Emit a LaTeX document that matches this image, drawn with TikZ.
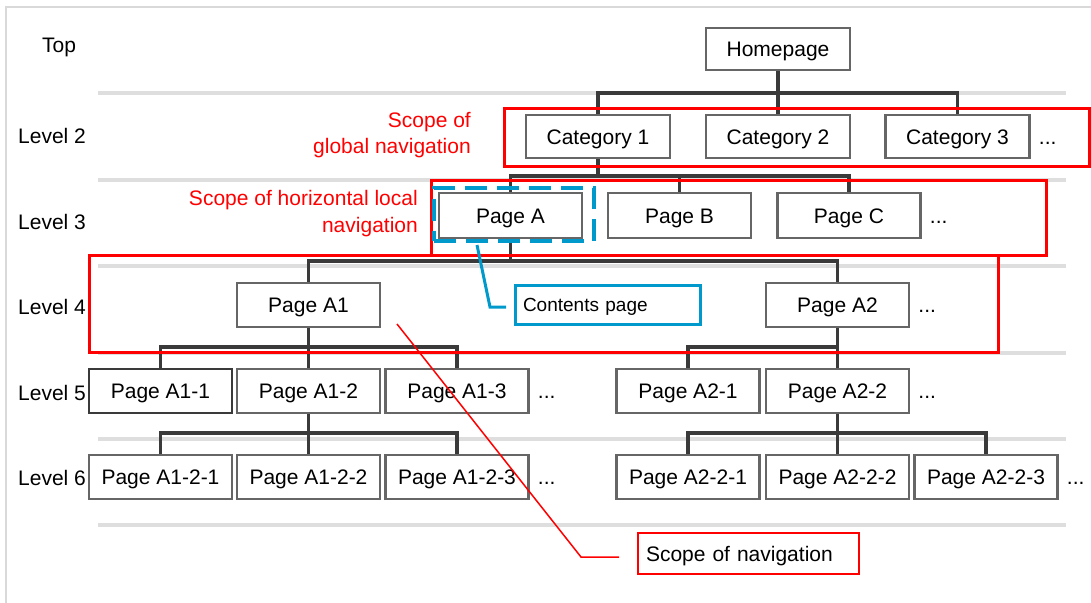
\documentclass[tikz,border=0pt]{standalone}
\usepackage{fontspec}
\setmainfont{Liberation Sans}
\usetikzlibrary{calc}
\definecolor{boxgray}{HTML}{666666}
\definecolor{darkbox}{HTML}{3A3A3A}
\definecolor{conngray}{HTML}{3A3A3A}
\definecolor{sepgray}{HTML}{DEDEDE}
\definecolor{framegray}{HTML}{D9D9D9}
\definecolor{navred}{HTML}{FF0000}
\definecolor{navblue}{HTML}{0099CC}
\begin{document}
\begin{tikzpicture}[x=1pt,y=-1pt,
  pagebox/.style={draw=boxgray, line width=2.5pt, fill=white, minimum width=143pt, minimum height=44pt, inner sep=0pt, text height=15pt, text depth=0pt, font=\fontsize{21}{25}\selectfont},
  conn/.style={draw=conngray, line width=3.5pt},
  sep/.style={draw=sepgray, line width=4pt},
  scoperect/.style={draw=navred, line width=3pt},
  lvl/.style={anchor=west, inner sep=0pt, font=\fontsize{21}{25}\selectfont},
  dots/.style={anchor=base west, inner sep=0pt, font=\fontsize{21}{25}\selectfont},
  redlabel/.style={text=navred, align=right, anchor=east, inner sep=0pt},
  callout/.style={draw, line width=3pt, fill=white, text width=169pt, align=left, inner xsep=8pt, inner ysep=0pt, text height=14pt, text depth=0pt}]

\useasboundingbox (0,0) rectangle (1091,602);

% frame
\draw[framegray, line width=2pt] (6,604) -- (6,7) -- (1093,7);

% separators
\foreach \y in {93,180,266,353,439,525} \draw[sep] (98,\y) -- (1066,\y);

% level labels
\node[anchor=center, inner sep=0pt, font=\fontsize{21}{25}\selectfont] (ltop) at (59,47) {Top};
\node[lvl] (l2) at (18,136) {Level 2};
\node[lvl] (l3) at (18,222) {Level 3};
\node[lvl] (l4) at (18,307) {Level 4};
\node[lvl] (l5) at (18,393) {Level 5};
\node[lvl] (l6) at (18,478) {Level 6};

% red labels
\node[redlabel, font=\fontsize{21}{26}\selectfont] (glab) at (471,135) {Scope of\\global navigation};
\node[redlabel, font=\fontsize{21}{27}\selectfont] (hlab) at (418,213.5) {Scope of horizontal local\\navigation};

% boxes
\node[pagebox, minimum width=144pt, minimum height=42pt] (home) at (778,49) {Homepage};
\node[pagebox, minimum width=144pt, minimum height=43pt] (cat1) at (598,136.5) {Category 1};
\node[pagebox, minimum width=144pt, minimum height=43pt] (cat2) at (778,136.5) {Category 2};
\node[pagebox, minimum width=144pt, minimum height=43pt] (cat3) at (957.5,136.5) {Category 3};

\node[pagebox, minimum height=45pt] (pA) at (510.5,215.5) {Page A};
\node[pagebox, minimum height=45pt] (pB) at (679.5,215.5) {Page B};
\node[pagebox, minimum height=45pt] (pC) at (849,215.5) {Page C};

\node[pagebox] (pA1) at (308.5,305) {Page A1};
\node[pagebox] (pA2) at (837.5,305) {Page A2};

\node[pagebox, draw=darkbox] (pA11) at (160.5,391) {Page A1-1};
\node[pagebox] (pA12) at (308.5,391) {Page A1-2};
\node[pagebox] (pA13) at (457,391) {Page A1-3};
\node[pagebox] (pA21) at (688,391) {Page A2-1};
\node[pagebox] (pA22) at (837.5,391) {Page A2-2};

\node[pagebox] (pA121) at (160.5,477) {Page A1-2-1};
\node[pagebox] (pA122) at (308.5,477) {Page A1-2-2};
\node[pagebox] (pA123) at (457,477) {Page A1-2-3};
\node[pagebox] (pA221) at (688,477) {Page A2-2-1};
\node[pagebox] (pA222) at (837.5,477) {Page A2-2-2};
\node[pagebox] (pA223) at (986,477) {Page A2-2-3};

% dots
\node[dots] (d1) at ($(cat3.east)+(8,7.5)$) {...};
\node[dots] (d2) at ($(pC.east)+(8,7.5)$) {...};
\node[dots] (d3) at ($(pA2.east)+(8,7.5)$) {...};
\node[dots] (d4) at ($(pA13.east)+(8,7.5)$) {...};
\node[dots] (d5) at ($(pA22.east)+(8,7.5)$) {...};
\node[dots] (d6) at ($(pA123.east)+(8,7.5)$) {...};
\node[dots] (d7) at ($(pA223.east)+(8,7.5)$) {...};

% connectors
\coordinate (b1) at (778,93);
\draw[conn] (home.south) -- (cat2.north);
\draw[conn] (cat1.north) |- (b1) -| (cat3.north);

\coordinate (b2) at (598,176);
\draw[conn] (cat1.south) -- (b2);
\draw[conn] (pA.north) |- (b2) -| (pC.north);
\draw[conn] (pB.north |- b2) -- (pB.north);

\coordinate (b3) at (510.5,261);
\draw[conn] (pA.south) -- (b3);
\draw[conn] (pA1.north) |- (b3) -| (pA2.north);

\coordinate (b4) at (308.5,347);
\draw[conn] (pA1.south) -- (pA12.north);
\draw[conn] (pA11.north) |- (b4) -| (pA13.north);
\coordinate (b5) at (837.5,347);
\draw[conn] (pA2.south) -- (pA22.north);
\draw[conn] (pA21.north) |- (b5);

\coordinate (b6) at (308.5,433);
\draw[conn] (pA12.south) -- (pA122.north);
\draw[conn] (pA121.north) |- (b6) -| (pA123.north);
\coordinate (b7) at (837.5,433);
\draw[conn] (pA22.south) -- (pA222.north);
\draw[conn] (pA221.north) |- (b7) -| (pA223.north);

% scope rectangles
\node[scoperect, minimum width=585pt, minimum height=58pt, inner sep=0pt] (gscope) at (796.5,137) {};
\node[scoperect, minimum width=615pt, minimum height=75pt, inner sep=0pt] (hscope) at (738.5,217.5) {};
\node[scoperect, minimum width=909pt, minimum height=97pt, inner sep=0pt] (nscope) at (543.5,303.5) {};

% contents page
\node[draw=navblue, line width=4pt, dash pattern=on 22pt off 10pt, minimum width=160pt, minimum height=53pt, inner sep=0pt] (cscope) at (514,214) {};
\node[callout, draw=navblue, minimum height=39pt, font=\fontsize{19}{23}\selectfont] (cp) at (607.5,304.5) {Contents page};
\coordinate (cpstart) at (477,245);
\coordinate (cpend) at (506,307);
\draw[navblue, line width=3pt] (cpstart) -- (490,307) -- (cpend);

% scope of navigation
\node[callout, draw=navred, line width=2pt, text width=205pt, minimum height=41pt, text height=15pt, font=\fontsize{21}{25}\selectfont] (sn) at (748.5,553.5) {Scope of navigation};
\coordinate (snstart) at (397,324);
\coordinate (snend) at (619,557);
\draw[navred, line width=1.5pt] (snstart) -- (581,557) -- (snend);
\end{tikzpicture}
\end{document}
